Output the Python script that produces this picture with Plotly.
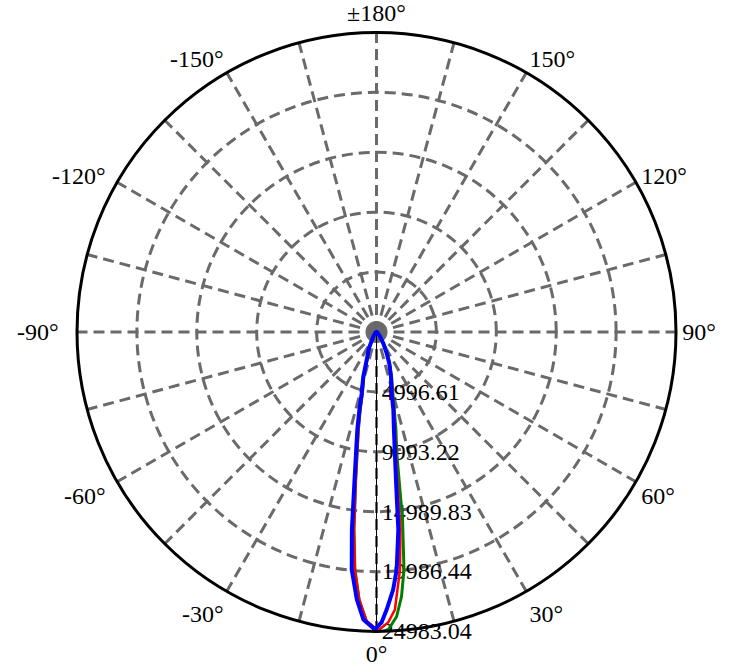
import plotly.graph_objects as go

# ---- data (angle in degrees, intensity in cd) ----
blue_theta = [-180, -150, -120, -90, -60, -40, -35, -28, -25, -19.3, -16.5, -13.6, -12.4, -11.1, -8.45, -7.1, -5.95, -4.2, -2.6, -0.3,
              1.0, 2.1, 3.7, 4.85, 6.3, 7.5, 10.1, 12.2, 13.9, 18, 22.2, 25.6, 31, 40, 60, 90, 120, 150, 180]
blue_r = [5, 5, 10, 15, 100, 330, 450, 900, 1500, 2470, 3880, 5250, 6650, 8320, 12460, 16610, 19930, 22380, 24010, 24820,
          24230, 23170, 21530, 19900, 16590, 12430, 8290, 6650, 5260, 3910, 2810, 1970, 1100, 400, 100, 15, 10, 5, 5]

red_theta = [-180, -150, -120, -90, -60, -40, -28, -25, -19, -16, -13, -11.8, -10.5, -8, -6.5, -5.2, -3.7, -2, 0.3,
             2.3, 3.8, 5.64, 6.9, 8.0, 10.6, 12.7, 14.4, 18.5, 22.7, 26, 31.5, 40, 60, 90, 120, 150, 180]
red_r = [5, 5, 10, 15, 100, 330, 850, 1400, 2400, 3850, 5200, 6650, 8300, 12450, 16600, 19900, 22370, 24100, 24900,
         24250, 23200, 19920, 16600, 12450, 8300, 6650, 5260, 3910, 2810, 1970, 1100, 400, 100, 15, 10, 5, 5]

green_theta = [-180, -150, -120, -90, -60, -40, -28, -25, -19, -16, -13, -11.8, -10.5, -8, -6.5, -5.2, -3.7, -2, 0, 1.2,
               2.3, 4.05, 5.4, 6.6, 7.9, 9.5, 11.25, 14, 18.5, 22.5, 26, 31.5, 40, 60, 90, 120, 150, 180]
green_r = [5, 5, 10, 15, 100, 330, 850, 1400, 2400, 3850, 5200, 6650, 8300, 12450, 16600, 19900, 22370, 24150, 24850, 24983,
           24830, 23790, 22170, 19950, 15810, 10220, 8320, 5830, 3950, 2850, 2000, 1100, 400, 100, 15, 10, 5, 5]

radial_ticks = [4996.61, 9993.22, 14989.83, 19986.44, 24983.04]
radial_labels = ["4996.61", "9993.22", "14989.83", "19986.44", "24983.04"]

angle_ticks = list(range(0, 360, 15))
angle_label_map = {0: "0°", 30: "30°", 60: "60°", 90: "90°", 120: "120°", 150: "150°", 180: "±180°",
                   210: "-150°", 240: "-120°\u00a0", 270: "-90°\u00a0\u00a0", 300: "-60°\u00a0", 330: "-30°"}
angle_labels = [angle_label_map.get(a, "") for a in angle_ticks]

FONT = "Liberation Serif"
GRID = "#6a6a6a"

fig = go.Figure()
fig.add_trace(go.Scatterpolar(r=green_r, theta=green_theta, mode="lines",
                              line=dict(color="#008000", width=3), showlegend=False))
fig.add_trace(go.Scatterpolar(r=red_r, theta=red_theta, mode="lines",
                              line=dict(color="#FF0000", width=2.5), showlegend=False))
fig.add_trace(go.Scatterpolar(r=blue_r, theta=blue_theta, mode="lines",
                              line=dict(color="#0000FF", width=4), showlegend=False))

fig.update_layout(
    width=733, height=667,
    margin=dict(l=76.5, r=56.5, t=32, b=35),
    paper_bgcolor="white",
    showlegend=False,
    polar=dict(
        bgcolor="white",
        domain=dict(x=[0, 1], y=[0, 1]),
        angularaxis=dict(
            rotation=-90, direction="counterclockwise",
            tickmode="array", tickvals=angle_ticks, ticktext=angle_labels,
            ticks="",
            showline=True, linecolor="black", linewidth=3,
            showgrid=True, gridcolor=GRID, gridwidth=3, griddash="11px,6px",
            tickfont=dict(family=FONT, size=24, color="black"),
        ),
        radialaxis=dict(
            range=[0, 24983.04], tickmode="array", tickvals=radial_ticks, ticktext=radial_labels,
            angle=-90, side="counterclockwise", tickangle=-90,
            ticks="", showline=True, linecolor="black", linewidth=1, griddash="11px,6px",
            showgrid=True, gridcolor=GRID, gridwidth=3, layer="below traces",
            tickfont=dict(family=FONT, size=24, color="black"),
        ),
    ),
)

fig.write_html("out.html", config={"displayModeBar": False},
               post_script="document.body.style.margin='0';document.body.style.padding='0';")
